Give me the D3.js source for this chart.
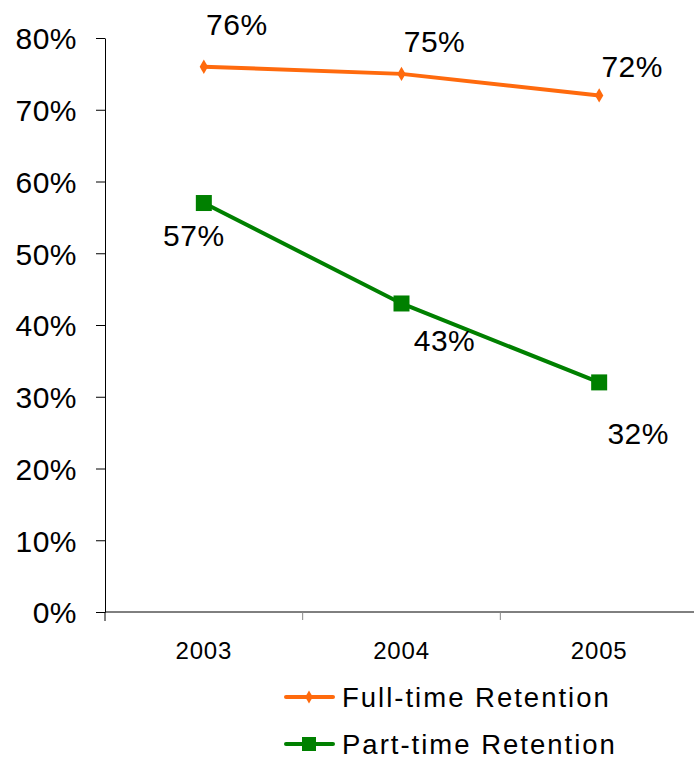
<!DOCTYPE html>
<html>
<head>
<meta charset="utf-8">
<script src="https://cdn.jsdelivr.net/npm/d3@7"></script>
<style>
  body { margin: 0; background: #fff; }
  svg text { font-family: "Liberation Sans", Arial, sans-serif; fill: #000; }
</style>
</head>
<body>
<svg id="chart"></svg>
<script>
// data
const years = ["2003", "2004", "2005"];
const fullTime = [76, 75, 72];
const partTime = [57, 43, 32];
const yTicks = [0, 10, 20, 30, 40, 50, 60, 70, 80];

// label offsets (px) from each point: [dx, dy of baseline]
const fullLabelOff = [[33, -32], [33, -22], [33, -18]];
const partLabelOff = [[-10, 43], [43, 48], [39, 62]];

const width = 694, height = 760;
const margin = {top: 38, right: 0, bottom: 148, left: 105};
const innerW = 698 - margin.left;
const innerH = 612 - margin.top;

const svg = d3.select("#chart").attr("width", width).attr("height", height);
const chart = svg.append("g").attr("transform", `translate(${margin.left},${margin.top})`);

const x = d3.scaleBand().domain(years).range([0, innerW]);
const y = d3.scaleLinear().domain([0, 80]).range([innerH, 0]);

// y axis
const yAxis = d3.axisLeft(y).tickValues(yTicks).tickFormat(d => d + "%").tickSize(9).tickSizeOuter(0);
const yg = chart.append("g").call(yAxis);
yg.select(".domain").attr("stroke", "#000");
yg.selectAll(".tick line").attr("stroke", "#000");
yg.selectAll(".tick text").attr("font-size", 30).attr("x", -28).attr("dy", "0.36em")
  .attr("letter-spacing", 0.5)
  .style("font-family", "'Liberation Sans', Arial, sans-serif");

// x axis
const xg = chart.append("g").attr("transform", `translate(0,${innerH})`);
xg.append("line").attr("x1", 0).attr("x2", innerW).attr("stroke", "#000");
xg.selectAll(".xt").data(d3.range(years.length + 1)).join("line")
  .attr("x1", i => i * x.step()).attr("x2", i => i * x.step())
  .attr("y1", 0).attr("y2", i => i === 0 ? 9 : 8)
  .attr("stroke", i => i === 0 ? "#000" : "#888");
xg.selectAll(".xl").data(years).join("text")
  .attr("x", d => x(d) + x.bandwidth() / 2)
  .attr("y", 47)
  .attr("text-anchor", "middle")
  .attr("font-size", 24)
  .attr("letter-spacing", 0.8)
  .text(d => d);

const cx = (d, i) => x(years[i]) + x.bandwidth() / 2;
const line = d3.line().x((d, i) => cx(d, i)).y(d => y(d));

// full-time series
chart.append("path").datum(fullTime).attr("d", line)
  .attr("fill", "none").attr("stroke", "#ff6a0d").attr("stroke-width", 4);
chart.selectAll(".fm").data(fullTime).join("path")
  .attr("d", d3.symbol(d3.symbolDiamond, 60)())
  .attr("transform", (d, i) => `translate(${cx(d, i)},${y(d)})`)
  .attr("fill", "#ff6a0d");
chart.selectAll(".fl").data(fullTime).join("text")
  .attr("x", (d, i) => cx(d, i) + fullLabelOff[i][0])
  .attr("y", (d, i) => y(d) + fullLabelOff[i][1])
  .attr("text-anchor", "middle").attr("font-size", 30).attr("letter-spacing", 0.5)
  .text(d => d + "%");

// part-time series
chart.append("path").datum(partTime).attr("d", line)
  .attr("fill", "none").attr("stroke", "#008000").attr("stroke-width", 4);
chart.selectAll(".pm").data(partTime).join("rect")
  .attr("x", (d, i) => cx(d, i) - 8).attr("y", d => y(d) - 8)
  .attr("width", 16).attr("height", 16)
  .attr("fill", "#008000");
chart.selectAll(".pl").data(partTime).join("text")
  .attr("x", (d, i) => cx(d, i) + partLabelOff[i][0])
  .attr("y", (d, i) => y(d) + partLabelOff[i][1])
  .attr("text-anchor", "middle").attr("font-size", 30).attr("letter-spacing", 0.5)
  .text(d => d + "%");

// legend
const legend = svg.append("g");
const items = [
  {name: "Full-time Retention", color: "#ff6a0d", mark: "diamond"},
  {name: "Part-time Retention", color: "#008000", mark: "square"}
];
items.forEach((it, i) => {
  const ly = 697 + i * 47;
  legend.append("line").attr("x1", 286).attr("x2", 333).attr("y1", ly).attr("y2", ly)
    .attr("stroke", it.color).attr("stroke-width", 4).attr("stroke-linecap", "round");
  if (it.mark === "diamond") {
    legend.append("path").attr("d", d3.symbol(d3.symbolDiamond, 50)())
      .attr("transform", `translate(309,${ly})`).attr("fill", it.color);
  } else {
    legend.append("rect").attr("x", 302).attr("y", ly - 7).attr("width", 14).attr("height", 14)
      .attr("fill", it.color);
  }
  legend.append("text").attr("x", 342).attr("y", ly + 10).attr("font-size", 27.5)
    .attr("letter-spacing", 2).text(it.name);
});
</script>
</body>
</html>
